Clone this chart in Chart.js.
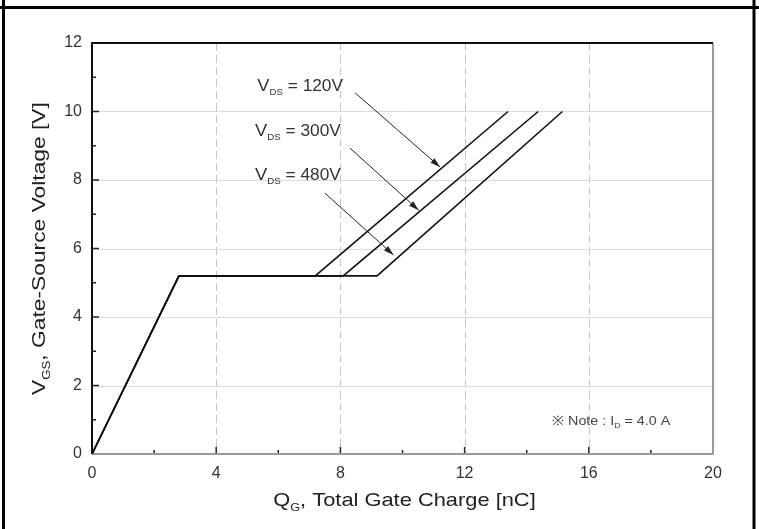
<!DOCTYPE html>
<html>
<head>
<meta charset="utf-8">
<script src="https://cdn.jsdelivr.net/npm/chart.js@4"></script>
<style>
    html, body { margin: 0; padding: 0; background: #fff; }
    canvas { display: block; }
</style>
</head>
<body>
<canvas id="gateChart" width="759" height="529"></canvas>
<script>
// Gate charge characteristics
const gateVoltage = [0, 5.2, 5.2, 10];
const charge120 = [0, 2.8, 7.19, 13.4];
const charge300 = [0, 2.8, 8.09, 14.37];
const charge480 = [0, 2.8, 9.18, 15.15];

const seriesLabels = ['120V', '300V', '480V'];

// arrow tail -> tip, in chart units [Qg, Vgs]
const arrowTails = [[8.48, 10.54], [8.31, 8.93], [7.51, 7.61]];
const arrowTips = [[11.21, 8.38], [10.52, 7.12], [9.71, 5.81]];

// label anchors (left edge / baseline), chart units
const labelQ = [5.32, 5.25, 5.25];
const labelV = [10.6, 9.28, 8.0];

const xTicks = [0, 4, 8, 12, 16, 20];
const yTicks = [0, 2, 4, 6, 8, 10, 12];

const FONT = '"Liberation Sans", Arial, Helvetica, sans-serif';

function toPoints(xs, ys) {
    return xs.map((x, i) => ({ x: x, y: ys[i] }));
}

// draws text with subscripts: parts = [[text, size, dy], ...]
function drawRich(ctx, x, y, parts, color, stretch) {
    ctx.save();
    ctx.translate(x, y);
    ctx.scale(stretch || 1, 1);
    ctx.fillStyle = color;
    ctx.textBaseline = 'alphabetic';
    ctx.textAlign = 'left';
    let cx = 0;
    parts.forEach(p => {
        ctx.font = p[1] + 'px ' + FONT;
        ctx.fillText(p[0], cx, p[2] || 0);
        cx += ctx.measureText(p[0]).width;
    });
    ctx.restore();
    return cx * (stretch || 1);
}

function richWidth(ctx, parts) {
    let w = 0;
    parts.forEach(p => {
        ctx.font = p[1] + 'px ' + FONT;
        w += ctx.measureText(p[0]).width;
    });
    return w;
}

const decorPlugin = {
    id: 'decor',
    beforeDatasetsDraw(chart) {
        const ctx = chart.ctx;
        const xs = chart.scales.x, ys = chart.scales.y;
        const a = chart.chartArea;
        ctx.save();
        // vertical dashed grid
        ctx.strokeStyle = '#c4c4c4';
        ctx.lineWidth = 1;
        ctx.setLineDash([8, 4]);
        [4, 8, 12, 16].forEach(v => {
            const px = Math.round(xs.getPixelForValue(v)) + 0.5;
            ctx.beginPath();
            ctx.moveTo(px, a.top);
            ctx.lineTo(px, a.bottom);
            ctx.stroke();
        });
        // horizontal grid
        ctx.setLineDash([]);
        ctx.strokeStyle = '#dcdcdc';
        [2, 4, 6, 8, 10].forEach(v => {
            const py = Math.round(ys.getPixelForValue(v)) + 0.5;
            ctx.beginPath();
            ctx.moveTo(a.left, py);
            ctx.lineTo(a.right, py);
            ctx.stroke();
        });
        // inward ticks
        ctx.strokeStyle = '#222';
        ctx.lineWidth = 1.5;
        for (let v = 1; v < 12; v++) {
            const py = ys.getPixelForValue(v);
            const len = v % 2 === 0 ? 7 : 4;
            ctx.beginPath();
            ctx.moveTo(a.left, py);
            ctx.lineTo(a.left + len, py);
            ctx.stroke();
        }
        for (let v = 2; v < 20; v += 2) {
            const px = xs.getPixelForValue(v);
            const len = v % 4 === 0 ? 7 : 4;
            ctx.beginPath();
            ctx.moveTo(px, a.bottom);
            ctx.lineTo(px, a.bottom - len);
            ctx.stroke();
        }
        // plot frame
        ctx.lineWidth = 2;
        ctx.strokeStyle = '#9a9a9a';
        ctx.beginPath();
        ctx.moveTo(a.left, a.bottom);
        ctx.lineTo(a.right, a.bottom);
        ctx.lineTo(a.right, a.top);
        ctx.stroke();
        ctx.strokeStyle = '#111';
        ctx.beginPath();
        ctx.moveTo(a.right, a.top);
        ctx.lineTo(a.left, a.top);
        ctx.lineTo(a.left, a.bottom);
        ctx.stroke();
        ctx.restore();
    },
    afterDatasetsDraw(chart) {
        const ctx = chart.ctx;
        const xs = chart.scales.x, ys = chart.scales.y;
        const a = chart.chartArea;

        // arrow heads
        ctx.save();
        ctx.fillStyle = '#222';
        for (let i = 3; i < 6; i++) {
            const pts = chart.getDatasetMeta(i).data;
            const p0 = pts[0], p1 = pts[1];
            const ang = Math.atan2(p1.y - p0.y, p1.x - p0.x);
            ctx.save();
            ctx.translate(p1.x, p1.y);
            ctx.rotate(ang);
            ctx.beginPath();
            ctx.moveTo(0, 0);
            ctx.lineTo(-10, -3);
            ctx.lineTo(-10, 3);
            ctx.closePath();
            ctx.fill();
            ctx.restore();
        }
        ctx.restore();

        // Vds labels
        seriesLabels.forEach((lab, i) => {
            const px = xs.getPixelForValue(labelQ[i]);
            const py = ys.getPixelForValue(labelV[i]);
            drawRich(ctx, px, py, [['V', 17, 0], ['DS', 9, 4], [' = ' + lab, 16, 0]], '#333', 1.08);
        });

        // note
        drawRich(ctx, 552, 425, [['\u203B Note : I', 13, 0], ['D', 8, 3], [' = 4.0 A', 13, 0]], '#444', 1.1);

        // x title
        const xParts = [['Q', 19, 0], ['G', 11, 5], [', Total Gate Charge [nC]', 19, 0]];
        const xStretch = 1.15;
        const xw = richWidth(ctx, xParts) * xStretch;
        drawRich(ctx, (a.left + a.right) / 2 + 2 - xw / 2, 506, xParts, '#222', xStretch);

        // y title
        const yParts = [['V', 19, 0], ['GS', 11, 5], [', Gate-Source Voltage [V]', 19, 0]];
        const yStretch = 1.2;
        const yw = richWidth(ctx, yParts) * yStretch;
        ctx.save();
        ctx.translate(45, (a.top + a.bottom) / 2);
        ctx.rotate(-Math.PI / 2);
        drawRich(ctx, -yw / 2, 0, yParts, '#222', yStretch);
        ctx.restore();
    },
    afterDraw(chart) {
        const ctx = chart.ctx;
        ctx.save();
        ctx.strokeStyle = '#000';
        ctx.lineWidth = 3;
        ctx.beginPath();
        ctx.moveTo(0, 7.5);
        ctx.lineTo(759, 7.5);
        ctx.moveTo(3.5, 0);
        ctx.lineTo(3.5, 529);
        ctx.moveTo(754, 0);
        ctx.lineTo(754, 529);
        ctx.stroke();
        ctx.restore();
    }
};

function curve(xs) {
    return {
        data: toPoints(xs, gateVoltage),
        showLine: true,
        borderColor: '#111',
        borderWidth: 1.6,
        pointRadius: 0,
        tension: 0
    };
}

function arrow(i) {
    return {
        data: [
            { x: arrowTails[i][0], y: arrowTails[i][1] },
            { x: arrowTips[i][0], y: arrowTips[i][1] }
        ],
        showLine: true,
        borderColor: '#222',
        borderWidth: 1,
        pointRadius: 0
    };
}

new Chart(document.getElementById('gateChart'), {
    type: 'scatter',
    data: {
        datasets: [
            curve(charge120), curve(charge300), curve(charge480),
            arrow(0), arrow(1), arrow(2)
        ]
    },
    options: {
        responsive: false,
        animation: false,
        devicePixelRatio: 1,
        layout: { padding: { top: 43, right: 46, left: 0, bottom: 0 } },
        plugins: {
            legend: { display: false },
            tooltip: { enabled: false }
        },
        scales: {
            x: {
                type: 'linear',
                min: 0,
                max: 20,
                afterBuildTicks(scale) { scale.ticks = xTicks.map(v => ({ value: v })); },
                afterFit(scale) { scale.height = 75; },
                grid: { display: false, drawTicks: false },
                border: { display: false },
                ticks: {
                    padding: 10,
                    color: '#333',
                    font: { family: FONT, size: 16 },
                    maxRotation: 0
                }
            },
            y: {
                type: 'linear',
                min: 0,
                max: 12,
                afterBuildTicks(scale) { scale.ticks = yTicks.map(v => ({ value: v })); },
                afterFit(scale) { scale.width = 92; },
                grid: { display: false, drawTicks: false },
                border: { display: false },
                ticks: {
                    padding: 10,
                    color: '#333',
                    font: { family: FONT, size: 16 }
                }
            }
        }
    },
    plugins: [decorPlugin]
});
</script>
</body>
</html>
